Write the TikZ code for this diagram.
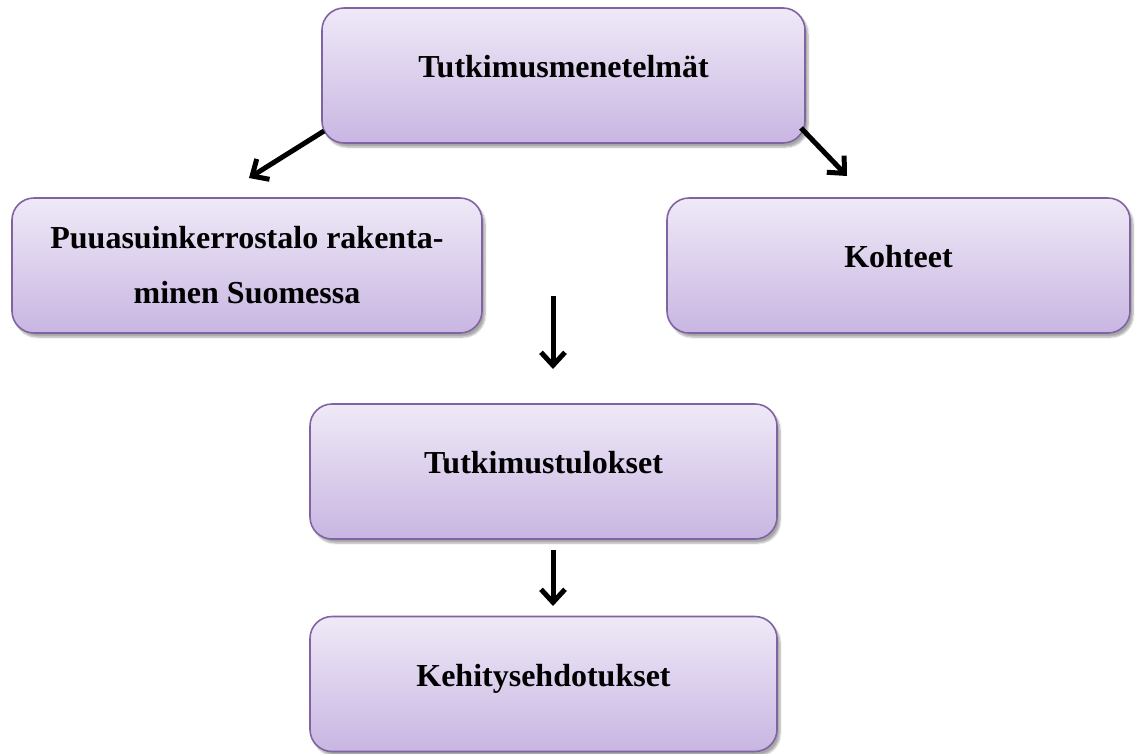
\documentclass[tikz,border=0pt]{standalone}
\usepackage{fontspec}
\setmainfont{Liberation Serif}
\usetikzlibrary{arrows.meta,shadows.blur}
\definecolor{boxtop}{RGB}{239,233,247}
\definecolor{boxbot}{RGB}{200,182,226}
\definecolor{boxline}{RGB}{128,100,162}
\tikzset{
  box/.style={draw=boxline, line width=1.6pt, rounded corners=22pt,
    top color=boxtop, bottom color=boxbot,
    minimum height=135pt, align=center,
    font=\fontsize{32}{55}\selectfont\bfseries,
    text height=0.7em, text depth=0.25em,
    blur shadow={shadow xshift=3pt, shadow yshift=-4pt, shadow blur steps=6, shadow opacity=35}},
  arr/.style={line width=5pt, -{Straight Barb[length=13pt,width=24pt]}}
}
\begin{document}
\begin{tikzpicture}[x=1pt,y=-1pt]
\useasboundingbox (0,0) rectangle (1141,753);
\node[box, minimum width=483pt] (top) at (563.5,75.5) {Tutkimusmenetelmät};
\node[box, minimum width=470pt, text height=, text depth=] (left) at (247,265.5) {Puuasuinkerrostalo rakenta-\\minen Suomessa};
\node[box, minimum width=463pt] (right) at (898.5,265.5) {Kohteet};
\node[box, minimum width=467pt] (mid) at (543.5,471.5) {Tutkimustulokset};
\node[box, minimum width=467pt] (bot) at (543.5,684) {Kehitysehdotukset};
\coordinate (a1s) at (324,131);
\coordinate (a1e) at (249,178);
\coordinate (a2s) at (801,128);
\coordinate (a2e) at (847,176);
\coordinate (a3s) at (553,296);
\coordinate (a3e) at (553,369);
\coordinate (a4s) at (553,550);
\coordinate (a4e) at (553,606);
\draw[arr] (a1s) -- (a1e);
\draw[arr] (a2s) -- (a2e);
\draw[arr] (a3s) -- (a3e);
\draw[arr] (a4s) -- (a4e);
\end{tikzpicture}
\end{document}
